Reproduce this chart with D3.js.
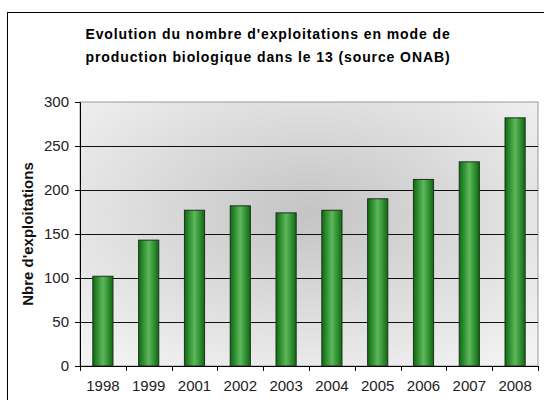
<!DOCTYPE html>
<html>
<head>
<meta charset="utf-8">
<script src="https://cdn.jsdelivr.net/npm/d3@7"></script>
<style>
  body { margin: 0; background: #fff; }
  svg { display: block; font-family: Arial, "Liberation Sans", sans-serif; }
</style>
</head>
<body>
<div id="chart"></div>
<script>
const years = ["1998", "1999", "2001", "2002", "2003", "2004", "2005", "2006", "2007", "2008"];
const exploitations = [102, 143, 177, 182, 174, 177, 190, 212, 232, 282];
const yTicks = [0, 50, 100, 150, 200, 250, 300];
const titleLines = ["Evolution du nombre d'exploitations en mode de", "production biologique dans le 13 (source ONAB)"];

const width = 544, height = 400;
const margin = { top: 102, right: 6, bottom: 34, left: 80 };
const innerW = width - margin.left - margin.right;
const innerH = height - margin.top - margin.bottom;

const svg = d3.select("#chart").append("svg")
    .attr("width", width)
    .attr("height", height);

const defs = svg.append("defs");

// plot-area background: darker grey in the middle, light at the edges
const bg = defs.append("radialGradient")
    .attr("id", "bgGrad")
    .attr("cx", "50%").attr("cy", "42%").attr("r", "70%");
bg.append("stop").attr("offset", "0%").attr("stop-color", "#c4c4c4");
bg.append("stop").attr("offset", "100%").attr("stop-color", "#f2f2f2");

// bars: dark green edges, lighter centre
const barGrad = defs.append("linearGradient")
    .attr("id", "barGrad")
    .attr("x1", "0%").attr("x2", "100%").attr("y1", "0%").attr("y2", "0%");
barGrad.append("stop").attr("offset", "0%").attr("stop-color", "#0d6a10");
barGrad.append("stop").attr("offset", "50%").attr("stop-color", "#5cb85a");
barGrad.append("stop").attr("offset", "100%").attr("stop-color", "#0d6a10");

// outer frame of the chart object
svg.append("rect")
    .attr("x", 7.5).attr("y", 12.5)
    .attr("width", width + 10).attr("height", height + 10)
    .attr("fill", "#fff")
    .attr("stroke", "#000");

// title
svg.append("g")
    .selectAll("text")
    .data(titleLines)
    .enter().append("text")
    .attr("x", 268)
    .attr("y", (d, i) => 39 + i * 23)
    .attr("text-anchor", "middle")
    .attr("font-size", 14)
    .attr("font-weight", "bold")
    .attr("letter-spacing", 0.9)
    .attr("fill", "#000")
    .text(d => d);

const g = svg.append("g")
    .attr("transform", `translate(${margin.left}, ${margin.top})`);

const x = d3.scaleBand()
    .domain(years)
    .range([0, innerW])
    .paddingInner(0.56)
    .paddingOuter(0.28);

const y = d3.scaleLinear()
    .domain([0, 300])
    .range([innerH, 0]);

g.append("rect")
    .attr("width", innerW)
    .attr("height", innerH)
    .attr("fill", "url(#bgGrad)")
    .attr("stroke", "#999");

// horizontal gridlines
g.append("g")
    .selectAll("line")
    .data(yTicks.filter(t => t > 0 && t < 300))
    .enter().append("line")
    .attr("x1", 0).attr("x2", innerW)
    .attr("y1", d => Math.round(y(d)) + 0.5)
    .attr("y2", d => Math.round(y(d)) + 0.5)
    .attr("stroke", "#111");

// bars
g.append("g")
    .selectAll("rect")
    .data(exploitations)
    .enter().append("rect")
    .attr("x", (d, i) => x(years[i]))
    .attr("y", d => y(d))
    .attr("width", x.bandwidth())
    .attr("height", d => innerH - y(d))
    .attr("fill", "url(#barGrad)")
    .attr("stroke", "#1c321c")
    .attr("stroke-width", 1);

// y axis
const yAxis = g.append("g")
    .call(d3.axisLeft(y).tickValues(yTicks).tickSize(5).tickPadding(6));
yAxis.select(".domain").attr("stroke", "#000");
yAxis.selectAll(".tick line").attr("stroke", "#000");
yAxis.selectAll("text").attr("font-size", 15).attr("fill", "#222");

// x axis with ticks between categories
const xAxis = g.append("g")
    .attr("transform", `translate(0, ${innerH})`)
    .call(d3.axisBottom(x).tickSize(0).tickPadding(14));
xAxis.select(".domain").attr("stroke", "#000");
xAxis.selectAll("text").attr("font-size", 15).attr("fill", "#222");

xAxis.append("g")
    .selectAll("line")
    .data(d3.range(years.length + 1))
    .enter().append("line")
    .attr("x1", i => Math.round(i * innerW / years.length) + 0.5)
    .attr("x2", i => Math.round(i * innerW / years.length) + 0.5)
    .attr("y1", 0).attr("y2", 5)
    .attr("stroke", "#000");

// y axis title
svg.append("text")
    .attr("transform", `translate(33, ${margin.top + innerH / 2}) rotate(-90)`)
    .attr("text-anchor", "middle")
    .attr("font-size", 15)
    .attr("font-weight", "bold")
    .attr("fill", "#111")
    .text("Nbre d'exploitations");
</script>
</body>
</html>
